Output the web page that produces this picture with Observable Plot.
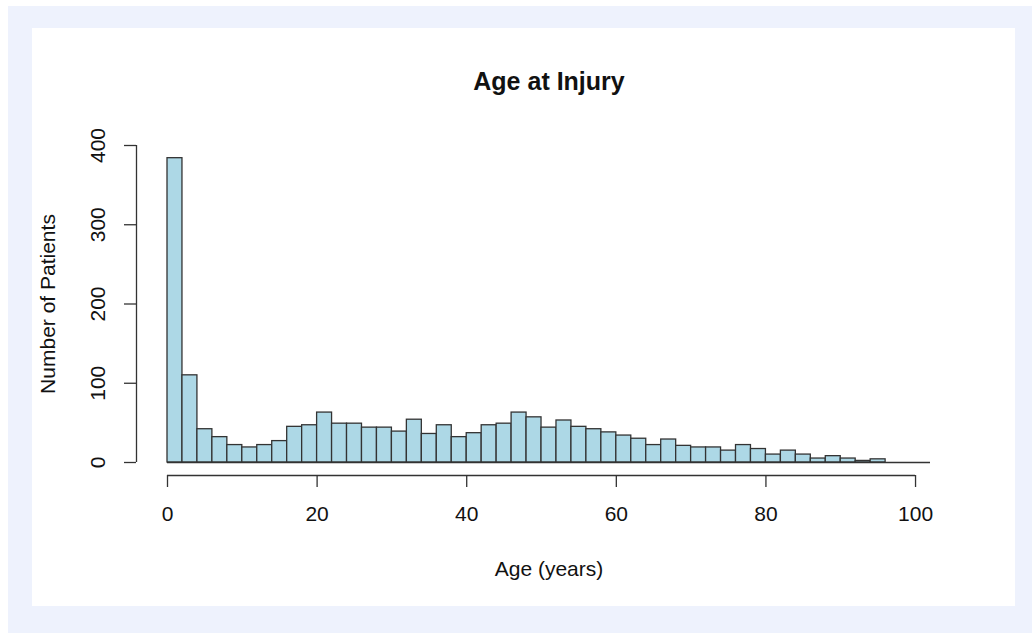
<!DOCTYPE html>
<html><head><meta charset="utf-8">
<script src="https://cdn.jsdelivr.net/npm/d3@7"></script>
<script src="https://cdn.jsdelivr.net/npm/@observablehq/plot@0.6"></script>
<style>
html,body{margin:0;padding:0;background:#fff;overflow:hidden;}
#outer{position:absolute;left:8px;top:6px;width:1024px;height:627px;background:#eef2fd;}
#panel{position:absolute;left:24px;top:22px;width:983px;height:578px;background:#fff;}
#panel svg{display:block;}
</style></head><body>
<div id="outer"><div id="panel"></div></div>
<script>
const title = "Age at Injury";
const xLabel = "Age (years)";
const yLabel = "Number of Patients";
const binStarts = [0,2,4,6,8,10,12,14,16,18,20,22,24,26,28,30,32,34,36,38,40,42,44,46,48,50,52,54,56,58,60,62,64,66,68,70,72,74,76,78,80,82,84,86,88,90,92,94,96,98,100];
const counts    = [384,110,42,32,22,19,22,27,45,47,63,49,49,44,44,39,54,36,47,32,37,47,49,63,57,44,53,45,42,38,34,30,22,29,21,19,19,15,22,17,10,15,10,5,8,5,2,4,0,0,0];
const binWidth = 2;
const xTicks = [0,20,40,60,80,100];
const yTicks = [0,100,200,300,400];

const bins = binStarts.map((s, i) => ({x1: s, x2: s + binWidth, count: counts[i]}));
const ink = "#333";

const chart = Plot.plot({
  width: 983, height: 578,
  marginLeft: 135, marginRight: 85, marginTop: 117, marginBottom: 144,
  x: {domain: [0, 102]},
  y: {domain: [0, 400]},
  style: {fontFamily: '"Liberation Sans", Arial, sans-serif', fontSize: "21px", color: "#111", background: "#fff", overflow: "visible"},
  marks: [
    Plot.rectY(bins.filter(d => d.count > 0), {x1: "x1", x2: "x2", y: "count", fill: "#add8e6", stroke: ink, strokeWidth: 1.3, inset: 0}),
    Plot.ruleY([0], {x1: 0, x2: 102, stroke: ink, strokeWidth: 1.3}),
    Plot.ruleY([0], {x1: xTicks[0], x2: xTicks[xTicks.length - 1], dy: 13, stroke: ink, strokeWidth: 1.3}),
    Plot.axisX(xTicks, {anchor: "bottom", tickSize: 12, tickPadding: 19, dy: 13, stroke: ink, strokeWidth: 1.3, label: null, fill: "#111"}),
    Plot.ruleX([0], {y1: yTicks[0], y2: yTicks[yTicks.length - 1], dx: -31, stroke: ink, strokeWidth: 1.3}),
    Plot.axisY(yTicks, {anchor: "left", tickSize: 12, tickPadding: 20, dx: -31, tickRotate: -90, stroke: ink, strokeWidth: 1.3, label: null, fill: "#111"}),
    Plot.text([xLabel], {frameAnchor: "bottom", dy: 113, lineAnchor: "bottom", textAnchor: "middle", fill: "#111"}),
    Plot.text([yLabel], {frameAnchor: "left", dx: -113, rotate: -90, lineAnchor: "bottom", textAnchor: "middle", fill: "#111"}),
    Plot.text([title], {frameAnchor: "top", dy: -56, lineAnchor: "bottom", textAnchor: "middle", fontWeight: "bold", fontSize: 25, fill: "#111"})
  ]
});
document.getElementById("panel").appendChild(chart);
</script>
</body></html>
